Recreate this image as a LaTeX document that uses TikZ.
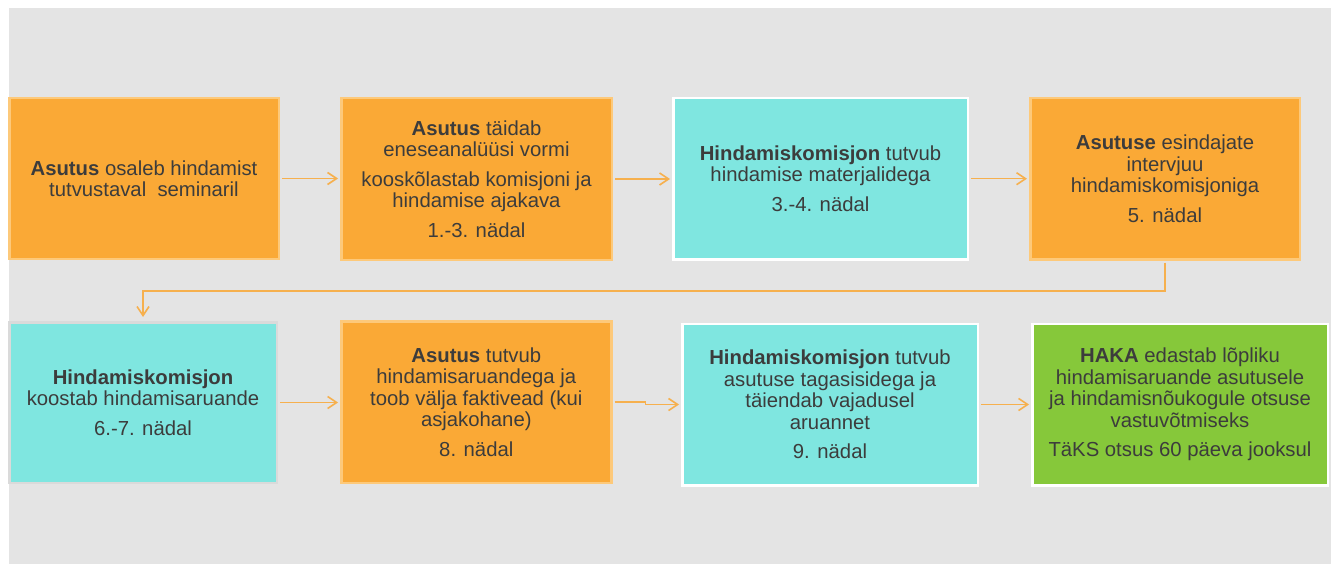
\documentclass[tikz,border=0pt]{standalone}
\usepackage{fontspec}
\setmainfont{Liberation Sans}
\usetikzlibrary{arrows.meta}
\definecolor{bggray}{HTML}{E4E4E4}
\definecolor{orfill}{HTML}{FAA936}
\definecolor{orline}{HTML}{FDC97A}
\definecolor{cyfill}{HTML}{7FE6E0}
\definecolor{grfill}{HTML}{86C83A}
\definecolor{txtcol}{HTML}{3C3C3C}
\definecolor{arrcol}{HTML}{F6B04E}
\definecolor{b5line}{HTML}{DADADA}
\tikzset{
  box/.style={inner sep=0pt, line width=2.5pt, align=center, text=txtcol,
    font=\fontsize{20.3}{21.5}\selectfont},
  orbox/.style={box, fill=orfill, draw=orline},
  cybox/.style={box, fill=cyfill, draw=white},
  grbox/.style={box, fill=grfill, draw=white},
  arr/.style={draw=arrcol, line width=1.6pt, -{Straight Barb[length=9pt,width=12pt,line width=1.6pt]},
    shorten <=2pt, shorten >=2pt}
}
\newcommand{\pgap}{\\[8pt]}
\begin{document}
\begin{tikzpicture}[x=1pt,y=-1pt]
\useasboundingbox (0,0) rectangle (1338,564);
\fill[bggray] (9,8) rectangle (1331,564);

\node[orbox, minimum width=269.5pt, minimum height=160.5pt] (b1) at (144,178.5)
  {\textbf{Asutus} osaleb hindamist\\tutvustaval\ \ seminaril};
\node[orbox, minimum width=270.5pt, minimum height=161.5pt] (b2) at (476.5,179)
  {\textbf{Asutus} täidab\\eneseanalüüsi vormi\pgap kooskõlastab komisjoni ja\\hindamise ajakava\pgap 1.-3. nädal};
\node[cybox, minimum width=294.5pt, minimum height=161.5pt] (b3) at (820.5,178.7)
  {\textbf{Hindamiskomisjon} tutvub\\hindamise materjalidega\pgap 3.-4. nädal};
\node[orbox, minimum width=269.5pt, minimum height=161.5pt] (b4) at (1165,178.7)
  {\textbf{Asutuse} esindajate\\intervjuu\\hindamiskomisjoniga\pgap 5. nädal};

\node[box, fill=cyfill, draw=b5line, minimum width=267.5pt, minimum height=160.5pt] (b5) at (143,402.5)
  {\textbf{Hindamiskomisjon}\\koostab hindamisaruande\pgap 6.-7. nädal};
\node[orbox, minimum width=270pt, minimum height=161.5pt] (b6) at (476.3,402)
  {\textbf{Asutus} tutvub\\hindamisaruandega ja\\toob välja faktivead (kui\\asjakohane)\pgap 8. nädal};
\node[cybox, minimum width=295.5pt, minimum height=161.5pt] (b7) at (830,404.5)
  {\textbf{Hindamiskomisjon} tutvub\\asutuse tagasisidega ja\\täiendab vajadusel\\aruannet\pgap 9. nädal};
\node[grbox, minimum width=295.5pt, minimum height=161.5pt] (b8) at (1180,404.5)
  {\textbf{HAKA} edastab lõpliku\\hindamisaruande asutusele\\ja hindamisnõukogule otsuse\\vastuvõtmiseks\pgap TäKS otsus 60 päeva jooksul};

\draw[arr] (b1.east) -- (b2.west |- b1.east);
\draw[arr] (b2.east) -- (b3.west |- b2.east);
\draw[arr] (b3.east) -- (b4.west |- b3.east);
\draw[arr, shorten >=4pt] (b4.south) -- ++(0,30.5) -| (b5.north);
\draw[arr] (b5.east) -- (b6.west |- b5.east);
\draw[arr] (b6.east) -- ++(33,0) |- (b7.west);
\draw[arr] (b7.east) -- (b8.west);
\end{tikzpicture}
\end{document}
